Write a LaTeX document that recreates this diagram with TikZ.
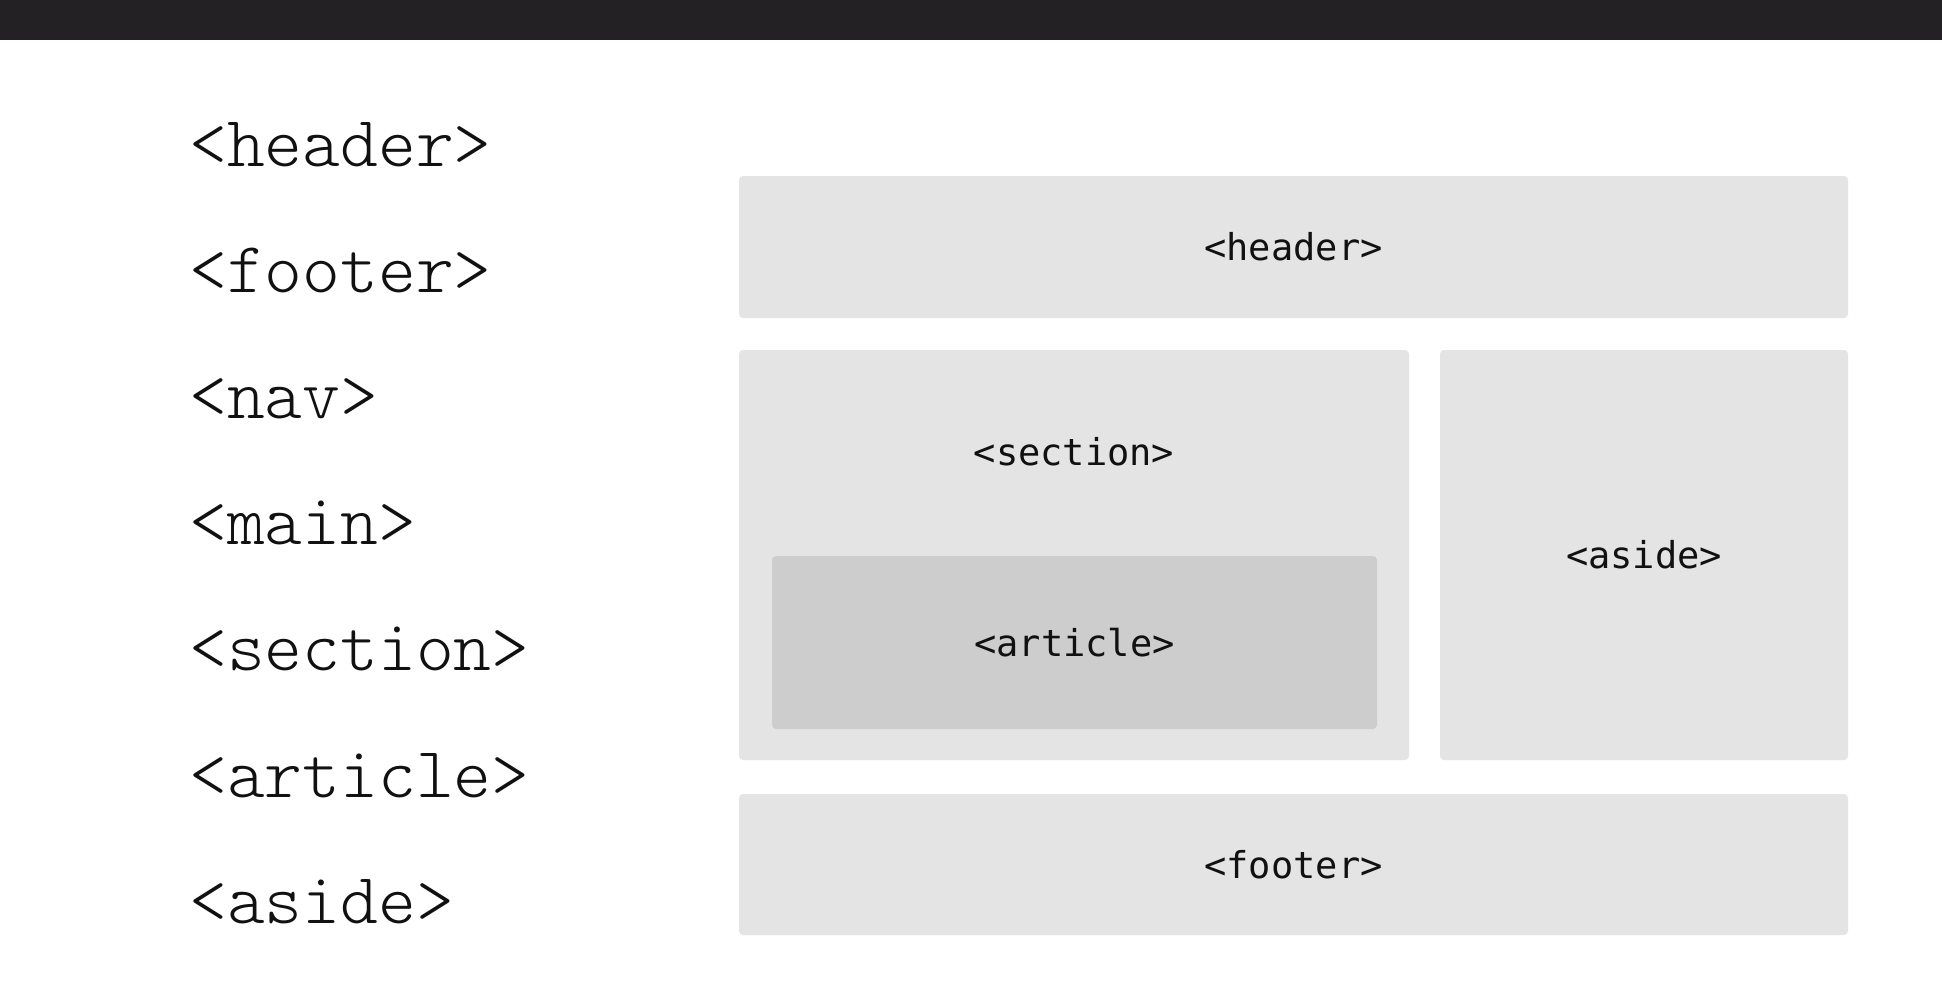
\documentclass[tikz,border=0pt]{standalone}
\usepackage{fontspec}
\newfontfamily\tagfont{DejaVu Sans Mono}
\newfontfamily\listfont{Latin Modern Mono Light}
\definecolor{barcolor}{HTML}{232124}
\definecolor{boxfill}{HTML}{E4E4E4}
\definecolor{innerfill}{HTML}{CDCDCD}
\definecolor{textcol}{HTML}{111111}
\tikzset{
  codelabel/.style={anchor=base west, inner sep=0pt, text=textcol, font=\listfont\fontsize{72}{72}\selectfont},
  tagbox/.style={fill=boxfill, rounded corners=4pt, inner sep=0pt, text=textcol, font=\tagfont\fontsize{37}{37}\selectfont},
  taglabel/.style={inner sep=0pt, text=textcol, font=\tagfont\fontsize{37}{37}\selectfont},
}
\begin{document}
\begin{tikzpicture}[x=1pt,y=-1pt]
  \useasboundingbox (0,0) rectangle (1942,980);
  \fill[white] (0,0) rectangle (1942,980);
  % top bar
  \fill[barcolor] (0,0) rectangle (1942,40);

  % list of elements
  \node[codelabel] (lheader)  at (189,166) {<header>};
  \node[codelabel] (lfooter)  at (189,292) {<footer>};
  \node[codelabel] (lnav)     at (189,418) {<nav>};
  \node[codelabel] (lmain)    at (189,544) {<main>};
  \node[codelabel] (lsection) at (189,670) {<section>};
  \node[codelabel] (larticle) at (189,797) {<article>};
  \node[codelabel] (laside)   at (189,923) {<aside>};

  % page layout
  \node[tagbox, minimum width=1109pt, minimum height=142pt] (hbox) at (1293.5,247) {<header>};
  \node[tagbox, minimum width=670pt, minimum height=410pt] (sbox) at (1074,555) {};
  \node[taglabel] (slabel) at (1074,452) {<section>};
  \node[tagbox, fill=innerfill, minimum width=605pt, minimum height=173pt] (abox) at (1074.5,642.5) {<article>};
  \node[tagbox, minimum width=408pt, minimum height=410pt] (asbox) at (1644,555) {<aside>};
  \node[tagbox, minimum width=1109pt, minimum height=141pt] (fbox) at (1293.5,864.5) {<footer>};
\end{tikzpicture}
\end{document}
